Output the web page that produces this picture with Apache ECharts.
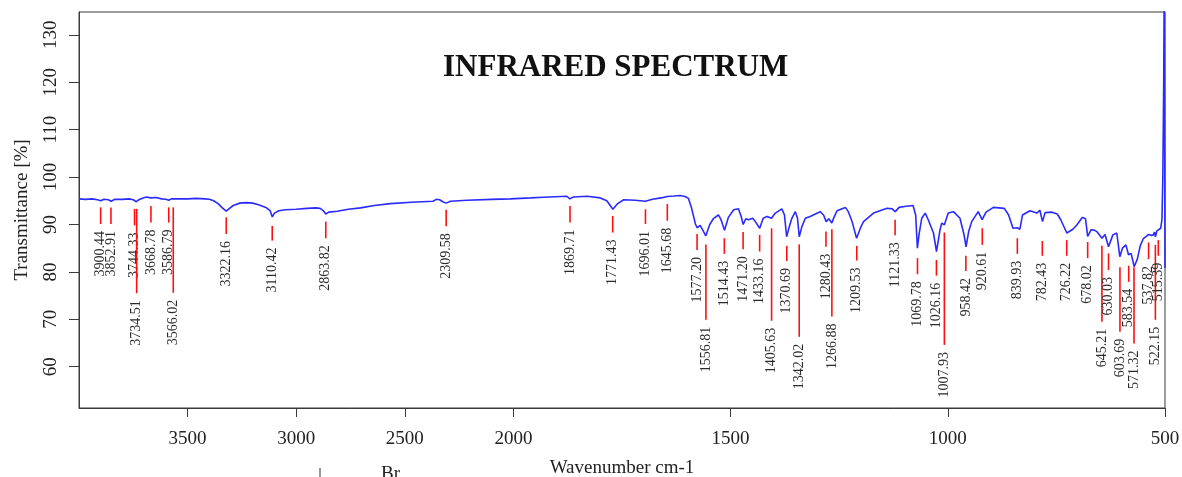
<!DOCTYPE html>
<html>
<head>
<meta charset="utf-8">
<script src="https://cdn.jsdelivr.net/npm/echarts@6/dist/echarts.min.js"></script>
<style>
  html, body { margin: 0; padding: 0; background: #fff; }
  #chart { width: 1182px; height: 477px; }
</style>
</head>
<body>
<div id="chart"></div>
<script>
// IR spectrum: [wavenumber cm-1, transmittance %]
const spectrum = [
  [4000,95.4],[3970,95.3],[3940,95.4],[3915,95.2],[3900,95.0],[3885,95.3],[3865,95.2],[3852,94.9],
  [3835,95.3],[3800,95.3],[3770,95.4],[3750,95.2],[3736,94.8],[3725,95.2],[3705,95.6],[3690,95.8],
  [3669,95.6],[3645,95.7],[3620,95.4],[3600,95.3],[3587,95.1],[3575,95.4],[3566,95.2],[3540,95.4],
  [3500,95.4],[3460,95.5],[3420,95.4],[3400,95.3],[3380,95.0],[3360,94.4],[3340,93.5],[3322,92.8],
  [3310,93.3],[3290,94.0],[3260,94.5],[3230,94.6],[3200,94.5],[3170,94.1],[3140,93.6],[3120,92.9],
  [3110,91.6],[3100,92.4],[3080,92.9],[3050,93.1],[3000,93.2],[2950,93.4],[2910,93.5],[2890,93.4],
  [2875,92.9],[2864,92.2],[2850,92.6],[2811,92.8],[2760,93.2],[2704,93.5],[2640,94.0],[2566,94.4],
  [2470,94.7],[2370,94.9],[2355,95.3],[2340,95.2],[2325,94.8],[2310,94.5],[2290,94.9],[2213,95.1],
  [2100,95.3],[2014,95.4],[1960,95.6],[1931,95.75],[1890,95.9],[1877,95.95],[1870,95.4],[1862,95.8],
  [1830,95.96],[1800,95.6],[1785,95.0],[1771,93.2],[1760,94.4],[1746,95.2],[1720,95.1],[1696,94.9],
  [1680,95.3],[1660,95.6],[1646,95.9],[1630,96.0],[1616,96.1],[1605,95.9],[1597,95.5],[1590,93.5],
  [1581,90.1],[1577,89.3],[1570,89.8],[1566,90.0],[1557,87.6],[1548,90.0],[1539,91.3],[1528,92.0],
  [1522,91.0],[1514,88.8],[1505,91.5],[1493,93.1],[1482,93.3],[1476,91.8],[1471,90.0],[1465,91.2],
  [1459,91.0],[1449,91.3],[1443,90.6],[1433,89.2],[1425,91.3],[1416,91.7],[1406,91.3],[1397,92.4],
  [1382,93.3],[1376,92.0],[1371,87.4],[1365,89.5],[1359,91.3],[1351,92.7],[1346,91.3],[1342,87.4],
  [1336,89.5],[1328,91.3],[1317,91.7],[1294,92.7],[1286,92.0],[1280,90.6],[1274,91.2],[1267,90.3],
  [1262,91.5],[1255,92.9],[1236,93.6],[1229,92.7],[1220,90.5],[1210,87.1],[1200,89.5],[1194,90.6],
  [1171,92.4],[1140,93.4],[1128,93.3],[1121,92.7],[1112,93.6],[1100,93.8],[1080,94.0],[1074,92.0],
  [1070,85.0],[1066,88.0],[1060,91.3],[1052,92.4],[1045,91.0],[1033,88.2],[1026,84.3],[1018,88.8],
  [1014,90.3],[1008,89.9],[999,92.4],[987,92.7],[972,91.3],[963,88.0],[958,85.3],[952,88.5],
  [945,90.6],[930,92.7],[921,91.0],[912,92.6],[895,93.6],[870,93.4],[860,92.0],[850,89.2],
  [840,89.3],[834,89.0],[828,92.0],[811,92.9],[795,92.4],[788,93.0],[782,90.6],[776,92.5],
  [760,92.6],[748,92.2],[740,91.0],[726,88.2],[712,89.0],[703,89.9],[690,91.5],[683,91.2],
  [678,87.5],[670,88.9],[663,88.8],[657,88.5],[645,87.1],[638,87.9],[634,87.6],[630,85.3],
  [620,87.8],[611,88.2],[608,88.0],[604,83.2],[598,85.0],[590,85.7],[584,83.6],[578,83.9],
  [571,81.1],[564,82.6],[557,85.5],[550,87.0],[543,87.5],[538,87.9],[532,87.7],[527,87.8],
  [524,88.4],[522,87.4],[519,88.6],[515,89.0],[510,89.2],[507,91.0],[505,100],[503,120],
  [501.5,145],[500.2,145],[500,80.8]
];

// Picked peaks and the transmittance span of each red marker
const peakWavenumbers = [3900.44, 3852.91, 3744.33, 3734.51, 3668.78, 3586.79, 3566.02, 3322.16, 3110.42, 2863.82,
  2309.58, 1869.71, 1771.43, 1696.01, 1645.68, 1577.20, 1556.81, 1514.43, 1471.20, 1433.16,
  1405.63, 1370.69, 1342.02, 1280.43, 1266.88, 1209.53, 1121.33, 1069.78, 1026.16, 1007.93,
  958.42, 920.61, 839.93, 782.43, 726.22, 678.02, 645.21, 630.03, 603.69, 583.54,
  571.32, 537.82, 522.15, 515.39];
const markTop = [93.6, 93.6, 93.3, 93.3, 93.9, 93.6, 93.6, 91.5, 89.7, 90.6,
  93.1, 93.9, 91.8, 93.2, 94.3, 88.0, 85.8, 87.1, 88.4, 87.8,
  89.2, 85.5, 85.8, 88.5, 89.0, 85.5, 91.0, 82.9, 82.5, 88.3,
  83.4, 89.2, 87.1, 86.5, 86.7, 86.3, 85.5, 83.9, 81.0, 81.3,
  81.0, 86.2, 85.7, 86.7];
const markBottom = [90.1, 90.1, 89.8, 75.5, 90.4, 90.4, 75.6, 88.0, 86.6, 87.1,
  89.6, 90.4, 88.3, 90.1, 90.8, 84.6, 69.9, 83.8, 84.8, 84.3,
  69.7, 82.3, 66.3, 85.3, 70.6, 82.4, 87.7, 79.5, 79.2, 64.6,
  80.2, 85.7, 83.8, 83.4, 83.4, 82.9, 69.5, 80.4, 67.4, 77.9,
  64.9, 82.7, 69.9, 83.4];

const xTicks = [3500, 3000, 2500, 2000, 1500, 1000, 500];
const yTicks = [60, 70, 80, 90, 100, 110, 120, 130];

// The wavenumber axis is compressed by half above 2000 cm-1
const BREAK = 2000;
const toAxis = w => (w <= BREAK ? w : BREAK + (w - BREAK) / 2);
const fromAxis = u => (u <= BREAK ? u : BREAK + (u - BREAK) * 2);

const serif = 'Liberation Serif';

const chart = echarts.init(document.getElementById('chart'), null, { renderer: 'canvas' });

chart.setOption({
  animation: false,
  backgroundColor: '#ffffff',
  grid: {
    left: 79, right: 17, top: 12, bottom: 69,
    outerBoundsMode: 'none',
    containLabel: false,
    show: true, borderColor: '#3a3a3a', borderWidth: 1, backgroundColor: 'transparent'
  },
  title: {
    text: 'INFRARED SPECTRUM',
    left: 438, top: 47,
    textStyle: { fontFamily: serif, fontWeight: 'bold', fontSize: 31, color: '#111' }
  },
  xAxis: {
    type: 'value',
    inverse: true,
    min: toAxis(500), max: toAxis(4000),
    name: 'Wavenumber cm-1',
    nameLocation: 'middle',
    nameGap: 51,
    nameTextStyle: { fontFamily: serif, fontSize: 19, color: '#222' },
    axisLine: { show: true, onZero: false, lineStyle: { color: '#3a3a3a', width: 1 } },
    axisTick: { show: true, length: 9, customValues: xTicks.map(toAxis), lineStyle: { color: '#3a3a3a' } },
    axisLabel: {
      customValues: xTicks.map(toAxis),
      formatter: v => String(Math.round(fromAxis(v))),
      margin: 22,
      fontFamily: serif, fontSize: 19, color: '#222'
    },
    splitLine: { show: false }
  },
  yAxis: {
    type: 'value',
    min: 51.3, max: 134.8,
    name: 'Transmittance [%]',
    nameLocation: 'middle',
    nameRotate: 90,
    nameGap: 47,
    nameTextStyle: { fontFamily: serif, fontSize: 19, color: '#222' },
    axisLine: { show: true, lineStyle: { color: '#3a3a3a', width: 1 } },
    axisTick: { show: true, length: 10, customValues: yTicks, lineStyle: { color: '#3a3a3a' } },
    axisLabel: {
      customValues: yTicks,
      rotate: 90,
      margin: 18,
      fontFamily: serif, fontSize: 19, color: '#222'
    },
    splitLine: { show: false }
  },
  series: [
    {
      type: 'line',
      data: spectrum.map(p => [toAxis(p[0]), p[1]]),
      showSymbol: false,
      symbol: 'none',
      clip: true,
      lineStyle: { color: '#2a2aff', width: 1.6 },
      z: 3
    },
    {
      type: 'custom',
      clip: false,
      data: peakWavenumbers.map((w, i) => [toAxis(w), markTop[i], markBottom[i]]),
      renderItem: (params, api) => {
        const top = api.coord([api.value(0), api.value(1)]);
        const bot = api.coord([api.value(0), api.value(2)]);
        return {
          type: 'group',
          children: [
            {
              type: 'line',
              shape: { x1: top[0], y1: top[1], x2: bot[0], y2: bot[1] },
              style: { stroke: '#ff1010', lineWidth: 1.6 }
            },
            {
              type: 'text',
              x: bot[0], y: bot[1] + 7,
              rotation: Math.PI / 2,
              style: {
                text: peakWavenumbers[params.dataIndex].toFixed(2),
                align: 'right', verticalAlign: 'middle',
                font: '14px "Liberation Serif"',
                fill: '#2a2a2a'
              }
            }
          ]
        };
      },
      z: 4
    }
  ],
  graphic: [
    { type: 'line', shape: { x1: 320, y1: 468, x2: 320, y2: 477 }, style: { stroke: '#333', lineWidth: 1 } },
    { type: 'text', x: 381, y: 465, style: { text: 'Br', font: '19px "Liberation Serif"', fill: '#222', verticalAlign: 'top' } }
  ]
});
</script>
</body>
</html>
